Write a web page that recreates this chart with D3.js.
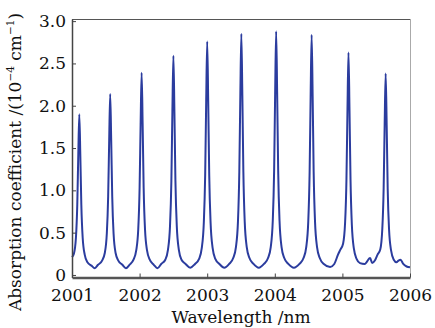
<!DOCTYPE html>
<html lang="en">
<head>
<meta charset="UTF-8">
<title>Absorption coefficient vs wavelength</title>
<script src="https://cdn.jsdelivr.net/npm/d3@7"></script>
<style>
    body { margin: 0; background: #fff; }
    svg text { font-family: "DejaVu Serif", serif; fill: #111; }
    .tick line { stroke: #444; }
</style>
</head>
<body>
<svg id="chart" width="435" height="328"></svg>
<script>
// curve (wavelength in nm, absorption in 1e-4 cm^-1)
var wavelength = [
    2001.000, 2001.028, 2001.058, 2001.078, 2001.093, 2001.108, 2001.123, 2001.138, 2001.158, 2001.188, 2001.228, 2001.288, 2001.337,
    2001.385, 2001.445, 2001.485, 2001.515, 2001.535, 2001.550, 2001.565, 2001.580, 2001.595, 2001.615, 2001.645, 2001.685, 2001.745, 2001.798,
    2001.850, 2001.910, 2001.950, 2001.980, 2002.000, 2002.015, 2002.030, 2002.045, 2002.060, 2002.080, 2002.110, 2002.150, 2002.210, 2002.265,
    2002.320, 2002.380, 2002.420, 2002.450, 2002.470, 2002.485, 2002.500, 2002.515, 2002.530, 2002.550, 2002.580, 2002.620, 2002.680, 2002.750,
    2002.820, 2002.880, 2002.920, 2002.950, 2002.970, 2002.985, 2003.000, 2003.015, 2003.030, 2003.050, 2003.080, 2003.120, 2003.180, 2003.253,
    2003.325, 2003.385, 2003.425, 2003.455, 2003.475, 2003.490, 2003.505, 2003.520, 2003.535, 2003.555, 2003.585, 2003.625, 2003.685, 2003.763,
    2003.840, 2003.900, 2003.940, 2003.970, 2003.990, 2004.005, 2004.020, 2004.035, 2004.050, 2004.070, 2004.100, 2004.140, 2004.200, 2004.283,
    2004.365, 2004.425, 2004.465, 2004.495, 2004.515, 2004.530, 2004.545, 2004.560, 2004.575, 2004.595, 2004.625, 2004.665, 2004.725, 2004.818,
    2004.880, 2004.935, 2004.970, 2005.010, 2005.040, 2005.060, 2005.075, 2005.090, 2005.105, 2005.120, 2005.140, 2005.170, 2005.210, 2005.260,
    2005.330, 2005.410, 2005.440, 2005.480, 2005.520, 2005.560, 2005.590, 2005.610, 2005.625, 2005.640, 2005.655, 2005.670, 2005.690, 2005.720,
    2005.760, 2005.800, 2005.830, 2005.860, 2005.900, 2005.950, 2006.000
];
var absorption = [
    0.21, 0.25, 0.44, 0.83, 1.42, 1.90, 1.42, 0.83, 0.44, 0.24, 0.15, 0.11, 0.08,
    0.12, 0.17, 0.26, 0.49, 0.93, 1.59, 2.14, 1.59, 0.93, 0.49, 0.26, 0.17, 0.12, 0.08,
    0.12, 0.18, 0.29, 0.54, 1.03, 1.78, 2.39, 1.78, 1.03, 0.54, 0.29, 0.18, 0.12, 0.08,
    0.13, 0.18, 0.30, 0.58, 1.11, 1.93, 2.59, 1.93, 1.11, 0.58, 0.30, 0.18, 0.13, 0.085,
    0.13, 0.19, 0.32, 0.62, 1.18, 2.05, 2.76, 2.05, 1.18, 0.62, 0.32, 0.19, 0.13, 0.085,
    0.13, 0.20, 0.33, 0.63, 1.22, 2.12, 2.85, 2.12, 1.22, 0.63, 0.33, 0.20, 0.13, 0.085,
    0.13, 0.20, 0.33, 0.64, 1.23, 2.14, 2.88, 2.14, 1.23, 0.64, 0.33, 0.20, 0.13, 0.085,
    0.13, 0.20, 0.33, 0.63, 1.21, 2.11, 2.84, 2.11, 1.21, 0.63, 0.33, 0.20, 0.13, 0.095,
    0.13, 0.24, 0.30, 0.37, 0.62, 1.13, 1.95, 2.63, 1.95, 1.13, 0.59, 0.31, 0.19, 0.14,
    0.13, 0.20, 0.14, 0.17, 0.24, 0.30, 0.54, 1.02, 1.77, 2.38, 1.77, 1.02, 0.54, 0.29,
    0.18, 0.15, 0.17, 0.18, 0.13, 0.10, 0.09
];
var xTicks = [2001, 2002, 2003, 2004, 2005, 2006];
var yTicks = [0, 0.5, 1.0, 1.5, 2.0, 2.5, 3.0];

var svg = d3.select('#chart');
var m = {left: 72, right: 410, top: 19, bottom: 277.5};

var x = d3.scaleLinear().domain([2001, 2006]).range([m.left, m.right]);
var y = d3.scaleLinear().domain([-0.03, 3.025]).range([m.bottom, m.top]);

// frame: top and right edges
svg.append('line').attr('x1', m.left).attr('x2', m.right).attr('y1', m.top + 0.5).attr('y2', m.top + 0.5)
    .attr('stroke', '#555').attr('stroke-width', 1.2);
svg.append('line').attr('x1', m.right + 0.5).attr('x2', m.right + 0.5).attr('y1', m.top).attr('y2', m.bottom)
    .attr('stroke', '#aaa').attr('stroke-width', 1);

var pts = wavelength.map(function (w, i) { return [w, absorption[i]] });
var line = d3.line()
    .x(function (d) { return x(d[0]) })
    .y(function (d) { return y(d[1]) })
    .curve(d3.curveMonotoneX);

svg.append('path')
    .datum(pts)
    .attr('d', line)
    .attr('fill', 'none')
    .attr('stroke', '#2b3c9e')
    .attr('stroke-width', 2)
    .attr('stroke-linejoin', 'round');

var fmt = function (d) { return d === 0 ? '0' : d3.format('.1f')(d) };

var gy = svg.append('g')
    .attr('transform', 'translate(' + m.left + ',0)')
    .call(d3.axisLeft(y).tickValues(yTicks).tickFormat(fmt).tickSizeInner(-4).tickSizeOuter(0).tickPadding(6));
var gx = svg.append('g')
    .attr('transform', 'translate(0,' + m.bottom + ')')
    .call(d3.axisBottom(x).tickValues(xTicks).tickFormat(d3.format('d')).tickSizeInner(-4).tickSizeOuter(0).tickPadding(11));

[gx, gy].forEach(function (g) {
    g.selectAll('text').attr('font-family', '"DejaVu Serif", serif').attr('font-size', 17).attr('fill', '#111');
});
gy.select('.domain').attr('stroke', '#444').attr('stroke-width', 1.5);
gx.select('.domain').attr('stroke', '#555').attr('stroke-width', 2.5);

svg.append('text')
    .attr('x', (m.left + m.right) / 2)
    .attr('y', 323)
    .attr('text-anchor', 'middle')
    .attr('font-size', 17)
    .text('Wavelength /nm');

var yl = svg.append('text')
    .attr('transform', 'translate(21,162) rotate(-90)')
    .attr('text-anchor', 'middle')
    .attr('font-size', 17);
yl.append('tspan').text('Absorption coefficient /(10');
yl.append('tspan').attr('font-size', 10.5).attr('dy', -7).text('\u22124');
yl.append('tspan').attr('dy', 7).text(' cm');
yl.append('tspan').attr('font-size', 10.5).attr('dy', -7).text('\u22121');
yl.append('tspan').attr('dy', 7).text(')');
</script>
</body>
</html>
